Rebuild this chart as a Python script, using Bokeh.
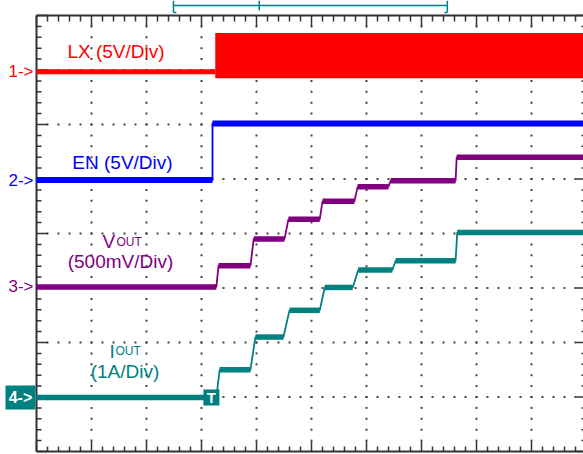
import numpy as np
from bokeh.plotting import figure
from bokeh.models import Range1d
from bokeh.embed import file_html
from bokeh.resources import INLINE
from bokeh.core.properties import value

# ---------------- data (scope divisions: x = time div, y = vertical div) -------------
ch_labels = ["1->", "2->", "3->", "4->"]
ch_ground = [6.97, 4.98, 3.02, 0.99]

# CH1: LX (5V/Div) - quiet before start, then switching band
lx_t = [0.0, 3.25]
lx_v = [6.97, 6.97]
lx_band_t = [3.25, 10.0]
lx_band_low = [6.85, 6.85]
lx_band_high = [7.68, 7.68]

# CH2: EN (5V/Div)
en_t = [0.0, 3.20, 3.20, 10.0]
en_v = [4.98, 4.98, 6.02, 6.02]

# CH3: VOUT (500mV/Div)
vout_t = [0.0, 3.27, 3.31, 3.89, 3.95, 4.51, 4.58, 5.15, 5.20, 5.78, 5.84, 6.40, 6.44, 7.62, 7.64, 10.0]
vout_v = [3.02, 3.02, 3.41, 3.41, 3.90, 3.90, 4.26, 4.26, 4.59, 4.59, 4.86, 4.86, 4.97, 4.97, 5.40, 5.40]

# CH4: IOUT (1A/Div)
iout_t = [0.0, 3.27, 3.33, 3.89, 3.98, 4.49, 4.60, 5.15, 5.24, 5.75, 5.85, 6.47, 6.53, 7.62, 7.65, 10.0]
iout_v = [0.99, 0.99, 1.50, 1.50, 2.10, 2.10, 2.59, 2.59, 3.01, 3.01, 3.33, 3.33, 3.50, 3.50, 4.02, 4.02]

trigger_t = 3.18
view_window = [2.49, 7.47]
view_trigger = 4.05

# ---------------- geometry helpers (pixels -> divisions) ----------------
DX, DY, X0, Y0 = 55.0, 54.5, 36.0, 451.0
def xd(px):
    return (px - X0) / DX
def yd(px):
    return (Y0 - px) / DY
def lx(n):
    return n / DX
def ly(n):
    return n / DY

FONT = "Liberation Sans"
RED, BLUE, PURPLE, TEAL = "#FF0000", "#0000FF", "#800080", "#008080"
INK = "#333333"

p = figure(width=583, height=454,
           x_range=Range1d(xd(0), xd(583)), y_range=Range1d(yd(454), yd(0)),
           x_axis_type=None, y_axis_type=None,
           output_backend="svg", toolbar_location=None,
           min_border=0, outline_line_color=None, background_fill_color="white")

# ---------------- graticule: dotted grid ----------------
minor_y = np.arange(1, 40) * 0.2
minor_x = np.arange(1, 50) * 0.2
gx, gy = [], []
for c in range(1, 10):
    gx.extend([c] * len(minor_y)); gy.extend(minor_y)
for r in range(1, 8):
    gx.extend(minor_x); gy.extend([r] * len(minor_x))
p.scatter(gx, gy, marker="square", size=2, fill_color="#444444", line_color=None)

# border lines
p.segment(x0=[0, 0, 0], y0=[0, 0, 8], x1=[0, 10, 10], y1=[8, 0, 8], line_color=INK, line_width=2)

# border ticks
tx = np.arange(0, 51) * 0.2
is_major_x = np.isclose(tx, np.round(tx))
ty = np.arange(0, 41) * 0.2
is_major_y = np.isclose(ty, np.round(ty))
# top (pointing down)
p.segment(x0=tx, y0=[8] * len(tx), x1=tx, y1=np.where(is_major_x, 8 - ly(11), 8 - ly(6)),
          line_color=INK, line_width=1.5)
# bottom (pointing up)
p.segment(x0=tx, y0=[0] * len(tx), x1=tx, y1=np.where(is_major_x, ly(10), ly(5)),
          line_color=INK, line_width=1.5)
# left (pointing right)
p.segment(x0=[0] * len(ty), y0=ty, x1=np.where(is_major_y, lx(11), lx(5)), y1=ty,
          line_color=INK, line_width=1.5)
# right (pointing left)
p.segment(x0=[10] * len(ty), y0=ty, x1=np.where(is_major_y, 10 - lx(10), 10 - lx(5)), y1=ty,
          line_color=INK, line_width=1.5)

# ---------------- traces ----------------
def trace(t, v, color, thick=5, thin=1.8):
    p.line(t, v, line_color=color, line_width=thin)
    t = np.asarray(t); v = np.asarray(v)
    flat = np.isclose(v[:-1], v[1:])
    p.segment(x0=t[:-1][flat], y0=v[:-1][flat], x1=t[1:][flat], y1=v[1:][flat],
              line_color=color, line_width=thick)

# LX
p.segment(x0=[lx_t[0]], y0=[lx_v[0]], x1=[lx_t[1]], y1=[lx_v[1]], line_color=RED, line_width=5)
p.varea(x=lx_band_t, y1=lx_band_low, y2=lx_band_high, fill_color=RED)
trace(en_t, en_v, BLUE, thick=6)
trace(vout_t, vout_v, PURPLE, thick=5.5)
trace(iout_t, iout_v, TEAL, thick=5.5)

# ---------------- channel markers ----------------
colors = [RED, BLUE, PURPLE, TEAL]
p.text(x=[xd(33)] * 3, y=ch_ground[:3], text=ch_labels[:3], text_align="right", text_baseline="middle",
       text_color=colors[:3], text_font=value(FONT), text_font_size=value("17px"))
p.quad(left=[xd(5)], right=[xd(35)], top=[ch_ground[3] + ly(12)], bottom=[ch_ground[3] - ly(12)],
       fill_color=TEAL, line_color=None)
p.text(x=[xd(20)], y=[ch_ground[3]], text=[ch_labels[3]], text_align="center", text_baseline="middle",
       text_color="white", text_font=value(FONT), text_font_size=value("16px"), text_font_style="bold")
# trigger box
p.quad(left=[trigger_t - lx(8)], right=[trigger_t + lx(8)], top=[ch_ground[3] + ly(8)],
       bottom=[ch_ground[3] - ly(8)], fill_color=TEAL, line_color=None)
p.text(x=[trigger_t], y=[ch_ground[3]], text=["T"], text_align="center", text_baseline="middle",
       text_color="white", text_font=value(FONT), text_font_size=value("15px"), text_font_style="bold")

# ---------------- record view bracket (above graticule) ----------------
yb = yd(5)
p.segment(x0=[view_window[0]], y0=[yb], x1=[view_window[1]], y1=[yb], line_color=TEAL, line_width=1.5)
p.segment(x0=view_window, y0=[yd(0)] * 2, x1=view_window, y1=[yd(12)] * 2, line_color=TEAL, line_width=1.5)
p.segment(x0=[view_window[0], view_window[1]], y0=[yd(12)] * 2,
          x1=[view_window[0] + lx(3), view_window[1] - lx(3)], y1=[yd(12)] * 2, line_color=TEAL, line_width=1.5)
p.segment(x0=[view_trigger], y0=[yd(0)], x1=[view_trigger], y1=[yd(10)], line_color=TEAL, line_width=1.5)

# ---------------- channel annotations ----------------
def label(x, y, s, color, size="19px", align="center"):
    p.text(x=[x], y=[y], text=[s], text_align=align, text_baseline="alphabetic",
           text_color=color, text_font=value(FONT), text_font_size=value(size))

label(xd(115.5), yd(51), "LX (5V/Div)", RED)
label(xd(122), yd(162), "EN (5V/Div)", BLUE)
label(xd(102), yd(241), "V", PURPLE, align="left")
label(xd(116), yd(241), "OUT", PURPLE, size="12px", align="left")
label(xd(120), yd(261), "(500mV/Div)", PURPLE)
label(xd(109), yd(350.5), "I", TEAL, align="left")
label(xd(115), yd(350.5), "OUT", TEAL, size="12px", align="left")
label(xd(124.5), yd(371), "(1A/Div)", TEAL)

open("out.html", "w").write(file_html(p, INLINE))
